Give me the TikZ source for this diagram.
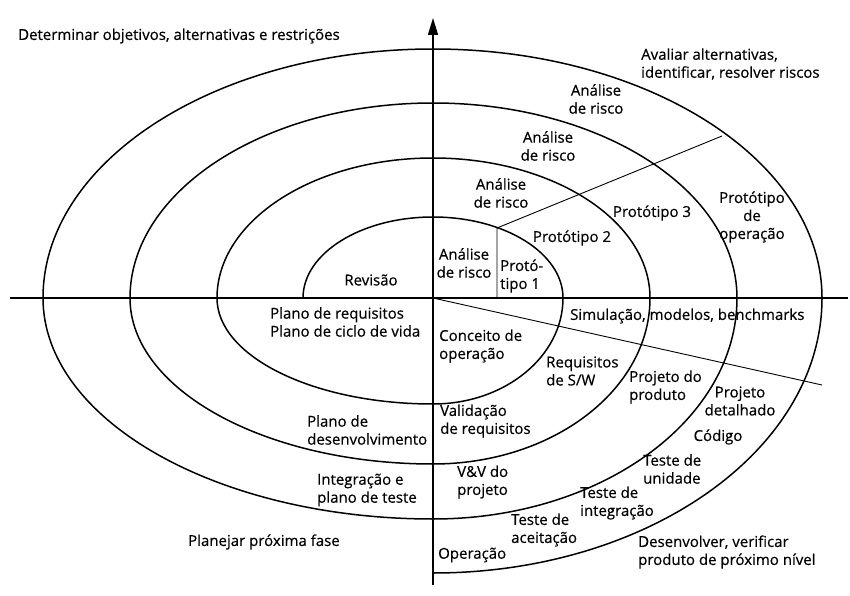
\documentclass[tikz,border=0pt]{standalone}
\usepackage{fontspec}
\setmainfont{Open Sans}[AutoFakeBold=0.5]
\usetikzlibrary{arrows.meta}
\begin{document}
\begin{tikzpicture}[x=1pt,y=1pt,
  spiral/.style={line width=1.5pt},
  axis/.style={line width=1.5pt},
  radial/.style={line width=0.9pt},
  lbl/.style={inner sep=0pt, font=\fontsize{15}{18}\selectfont\bfseries},
  lbll/.style={lbl, align=left, anchor=west},
  lblc/.style={lbl, align=center}]
\useasboundingbox (0,0) rectangle (850,595);
\coordinate (C) at (433,297);
\coordinate (S0) at (303,297);
\coordinate (AL) at (10,297);
\coordinate (AR) at (848,297);
\coordinate (AB) at (433,10);
\coordinate (AT) at (433,577);
% axes
\draw[axis] (AL) -- (AR);
\draw[axis,-{Triangle[length=17pt,width=10pt]}] (AB) -- (AT);
% spiral
\draw[spiral] (S0)
  arc[start angle=180,end angle=90,x radius=130pt,y radius=81pt]
  arc[start angle=90,end angle=0,x radius=130pt,y radius=81pt]
  arc[start angle=360,end angle=270,x radius=130pt,y radius=106pt]
  arc[start angle=270,end angle=180,x radius=216pt,y radius=106pt]
  arc[start angle=180,end angle=90,x radius=216pt,y radius=140pt]
  arc[start angle=90,end angle=0,x radius=217pt,y radius=140pt]
  arc[start angle=360,end angle=270,x radius=217pt,y radius=166pt]
  arc[start angle=270,end angle=180,x radius=303pt,y radius=166pt]
  arc[start angle=180,end angle=90,x radius=303pt,y radius=195pt]
  arc[start angle=90,end angle=0,x radius=304pt,y radius=195pt]
  arc[start angle=360,end angle=270,x radius=304pt,y radius=221pt]
  arc[start angle=270,end angle=180,x radius=390pt,y radius=221pt]
  arc[start angle=180,end angle=90,x radius=390pt,y radius=249pt]
  arc[start angle=90,end angle=0,x radius=389pt,y radius=249pt]
  arc[start angle=360,end angle=270,x radius=389pt,y radius=275pt] coordinate (SE);
% radial lines
\coordinate (R0) at (497,297);
\coordinate (R1) at (497,367);
\coordinate (R2) at (722,459);
\coordinate (R3) at (822,210);
\draw[radial] (R0) -- (R1) -- (R2);
\draw[radial] (C) -- (R3);
% labels
\node[lbll] (t1) at (18,559) {Determinar objetivos, alternativas e restrições};
\node[lbll] (t2) at (641,531) {Avaliar alternativas,\\identificar, resolver riscos};
\node[lblc] (a4) at (596,496) {Análise\\de risco};
\node[lblc] (a3) at (548,449) {Análise\\de risco};
\node[lblc] (a2) at (501,402) {Análise\\de risco};
\node[lblc] (a1) at (464,332) {Análise\\de risco};
\node[lbll] (p1) at (500,319) {Protó-\\tipo 1};
\node[lblc] (p2) at (572,357) {Protótipo 2};
\node[lblc] (p3) at (652,382) {Protótipo 3};
\node[lblc] (p4) at (752,378) {Protótipo\\de\\operação};
\node[lblc] (rev) at (371,315) {Revisão};
\node[lbll] (pr) at (270,273) {Plano de requisitos\\Plano de ciclo de vida};
\node[lbll] (pd) at (307,165) {Plano de\\desenvolvimento};
\node[lbll] (it) at (317,105) {Integração e\\plano de teste};
\node[lbll] (pf) at (188,53) {Planejar próxima fase};
\node[lbll] (sim) at (570,279) {Simulação, modelos, benchmarks};
\node[lbll] (co) at (439,249) {Conceito de\\operação};
\node[lbll] (rq) at (546,224) {Requisitos\\de S/W};
\node[lbll] (pp) at (629,208) {Projeto do\\produto};
\node[lblc] (pdt) at (740,194) {Projeto\\detalhado};
\node[lblc] (cod) at (718,158) {Código};
\node[lbll] (tu) at (643,126) {Teste de\\unidade};
\node[lbll] (ti) at (580,92) {Teste de\\integração};
\node[lbll] (ta) at (511,65) {Teste de\\aceitação};
\node[lbll] (op) at (438,40) {Operação};
\node[lbll] (vv) at (457,113) {V\&V do\\projeto};
\node[lbll] (vr) at (440,174) {Validação\\de requisitos};
\node[lbll] (dv) at (638,43) {Desenvolver, verificar\\produto de próximo nível};
\end{tikzpicture}
\end{document}
